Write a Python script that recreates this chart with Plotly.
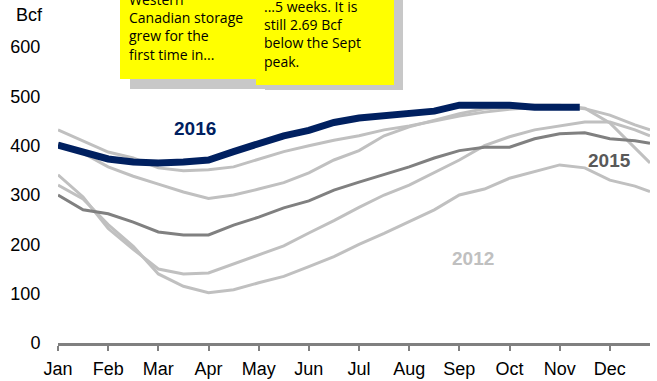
import plotly.graph_objects as go

# Western Canadian gas storage (Bcf), half-month readings; x in months from Jan 1
months = ["Jan", "Feb", "Mar", "Apr", "May", "Jun", "Jul", "Aug", "Sep", "Oct", "Nov", "Dec"]
x_full = [0, 0.5, 1, 1.5, 2, 2.5, 3, 3.5, 4, 4.5, 5, 5.5, 6, 6.5, 7, 7.5, 8, 8.5,
          9, 9.5, 10, 10.5, 11, 11.5, 11.8]
x_2016 = [0, 0.5, 1, 1.5, 2, 2.5, 3, 3.5, 4, 4.5, 5, 5.5, 6, 6.5, 7, 7.5, 8, 8.5,
          9, 9.5, 10, 10.4]

storage_2016 = [401, 387, 373, 367, 365, 367, 371, 388, 404, 420, 431, 447, 456, 460,
                464, 470, 482, 483, 482, 478, 478, 478]
storage_2015 = [300, 270, 262, 245, 225, 219, 219, 239, 255, 274, 288, 310, 326, 341,
                357, 375, 390, 397, 397, 414, 424, 426, 414, 410, 405]
storage_a = [432, 410, 387, 375, 355, 349, 351, 357, 372, 388, 400, 411, 420, 432,
             440, 450, 460, 468, 474, 478, 480, 475, 462, 442, 432]
storage_b = [405, 385, 357, 338, 322, 306, 293, 300, 312, 325, 345, 371, 390, 420,
             438, 452, 465, 475, 478, 482, 482, 476, 446, 395, 365]
storage_c = [341, 296, 232, 190, 150, 140, 142, 160, 178, 197, 223, 248, 275, 300,
             320, 345, 371, 400, 418, 432, 440, 448, 448, 432, 420]
storage_2012 = [320, 292, 240, 196, 140, 115, 102, 108, 122, 135, 155, 175, 200, 222,
                246, 270, 300, 312, 334, 348, 361, 355, 330, 318, 307]

y_ticks = [0, 100, 200, 300, 400, 500, 600]

W, H = 657, 381
L, R, T, B = 58, 7, 47, 38
X_MAX = 11.8


def xp(px):
    return (px - L) / (W - L - R)


def yp(py):
    return (H - B - py) / (H - B - T)


LIGHT = "#c0c0c0"
DARK = "#808080"
NAVY = "#002060"

fig = go.Figure()
for ys in (storage_a, storage_b, storage_c, storage_2012):
    fig.add_trace(go.Scatter(x=x_full, y=ys, mode="lines",
                             line=dict(color=LIGHT, width=3), hoverinfo="skip"))
fig.add_trace(go.Scatter(x=x_full, y=storage_2015, mode="lines",
                         line=dict(color=DARK, width=3), hoverinfo="skip"))
fig.add_trace(go.Scatter(x=x_2016, y=storage_2016, mode="lines",
                         line=dict(color=NAVY, width=7), hoverinfo="skip"))

axis_font = dict(family="Liberation Sans, Arial", size=18, color="black")

fig.update_layout(
    width=W, height=H,
    margin=dict(l=L, r=R, t=T, b=B),
    paper_bgcolor="white", plot_bgcolor="white",
    showlegend=False,
    xaxis=dict(range=[0, X_MAX], tickvals=list(range(12)), ticktext=months,
               showgrid=False, zeroline=False, showline=True, linecolor=DARK,
               linewidth=3, ticks="outside", ticklen=5, tickwidth=2,
               tickcolor=DARK, tickfont=axis_font, ticklabelstandoff=2,
               automargin=False),
    yaxis=dict(range=[0, 600], tickvals=y_ticks, showgrid=False, zeroline=False,
               showline=False, ticks="outside", ticklen=13,
               tickcolor="rgba(0,0,0,0)", tickfont=axis_font, automargin=False),
)

# Callout boxes with drop shadows
shadow = "#c8c8c8"
note_font = dict(family="Open Sans", size=14, color="black")
boxes = [
    dict(x0=120, x1=256, y0=-6, y1=79, dx=10, dy=10),
    dict(x0=256, x1=394, y0=-6, y1=85, dx=9, dy=5),
]
for bx in boxes:
    fig.add_shape(type="rect", xref="paper", yref="paper", layer="above",
                  x0=xp(bx["x0"] + bx["dx"]), x1=xp(bx["x1"] + bx["dx"]),
                  y0=yp(bx["y0"]), y1=yp(bx["y1"] + bx["dy"]),
                  fillcolor=shadow, line=dict(width=0))
    fig.add_shape(type="rect", xref="paper", yref="paper", layer="above",
                  x0=xp(bx["x0"]), x1=xp(bx["x1"]),
                  y0=yp(bx["y0"]), y1=yp(bx["y1"]),
                  fillcolor="#ffff00", line=dict(width=0))

fig.add_annotation(xref="paper", yref="paper", x=xp(127), y=yp(66),
                   xanchor="left", yanchor="bottom", align="left", showarrow=False,
                   text="Western<br>Canadian storage<br>grew for the<br>first time in...",
                   font=note_font)
fig.add_annotation(xref="paper", yref="paper", x=xp(262), y=yp(73),
                   xanchor="left", yanchor="bottom", align="left", showarrow=False,
                   text="...5 weeks. It is<br>still 2.69 Bcf<br>below the Sept<br>peak.",
                   font=note_font)

# Axis unit and series labels
fig.add_annotation(xref="paper", yref="paper", x=xp(29), y=yp(15),
                   xanchor="center", yanchor="middle",
                   showarrow=False, text="Bcf", font=axis_font)
label_font = "Liberation Sans, Arial"
fig.add_annotation(xref="paper", yref="paper", x=xp(195), y=yp(128),
                   xanchor="center", yanchor="middle", showarrow=False,
                   text="<b>2016</b>", font=dict(family=label_font, size=19, color=NAVY))
fig.add_annotation(xref="paper", yref="paper", x=xp(609), y=yp(160),
                   xanchor="center", yanchor="middle", showarrow=False,
                   text="<b>2015</b>", font=dict(family=label_font, size=19, color="#595959"))
fig.add_annotation(xref="paper", yref="paper", x=xp(473), y=yp(258),
                   xanchor="center", yanchor="middle", showarrow=False,
                   text="<b>2012</b>", font=dict(family=label_font, size=19, color=LIGHT))

fig.write_html("out.html")
